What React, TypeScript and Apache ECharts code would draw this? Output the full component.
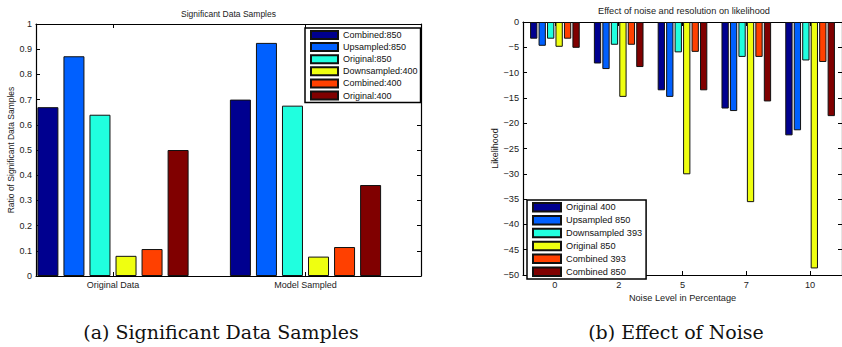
import React, { useEffect, useRef } from "react";
import * as echarts from "echarts";

// ---- (a) Significant Data Samples ----
const groupsA = ["Original Data", "Model Sampled"];
const namesA = ["Combined:850", "Upsampled:850", "Original:850", "Downsampled:400", "Combined:400", "Original:400"];
const combined850 = [0.67, 0.70];
const upsampled850 = [0.872, 0.925];
const original850 = [0.64, 0.676];
const downsampled400 = [0.08, 0.077];
const combined400 = [0.107, 0.115];
const original400 = [0.5, 0.361];
const valuesA = [combined850, upsampled850, original850, downsampled400, combined400, original400];

// ---- (b) Effect of Noise ----
const noiseLevels = ["0", "2", "5", "7", "10"];
const namesB = ["Original 400", "Upsampled 850", "Downsampled 393", "Original 850", "Combined 393", "Combined 850"];
const orig400 = [-3.3, -8.2, -13.5, -17.1, -22.4];
const up850 = [-4.7, -9.3, -14.8, -17.6, -21.4];
const down393 = [-3.3, -4.5, -6.0, -6.9, -7.6];
const orig850 = [-4.9, -14.8, -30.1, -35.6, -48.7];
const comb393 = [-3.3, -4.5, -5.9, -6.9, -7.9];
const comb850 = [-5.1, -8.9, -13.5, -15.7, -18.6];
const valuesB = [orig400, up850, down393, orig850, comb393, comb850];

const colors = ["#00008F", "#0060FF", "#20FFDF", "#EFFF10", "#FF4000", "#800000"];

const FONT = "Liberation Sans";
const SERIF = "DejaVu Serif";
const AX = "#000";
const TXT = "#222";

export default function App() {
  const ref = useRef<HTMLDivElement>(null);
  useEffect(() => {
    if (!ref.current) return;
    const chart = echarts.init(ref.current, undefined, { renderer: "svg" });

    const tick = { show: true, inside: true, length: 4, lineStyle: { color: AX, width: 1 } };
    const line = { show: true, onZero: false, lineStyle: { color: AX, width: 1.2 } };

    const seriesA = namesA.map((n, k) => ({
      name: n,
      type: "bar",
      xAxisIndex: 0,
      yAxisIndex: 0,
      barWidth: 21,
      barGap: "24%",
      data: valuesA[k].map((v, i) => [i + 1, v]),
      itemStyle: { color: colors[k], borderColor: "#111", borderWidth: 1 },
    }));
    const seriesB = namesB.map((n, k) => ({
      name: n,
      type: "bar",
      xAxisIndex: 2,
      yAxisIndex: 2,
      barWidth: 7.3,
      barGap: "16%",
      data: valuesB[k],
      itemStyle: { color: colors[k], borderColor: "#111", borderWidth: 1 },
    }));

    const legendCommon = {
      orient: "vertical",
      icon: "rect",
      backgroundColor: "#fff",
      borderColor: "#000",
      borderWidth: 1.5,
      borderRadius: 0,
      selectedMode: false,
    };

    chart.setOption({
      animation: false,
      textStyle: { fontFamily: FONT },
      title: [
        {
          text: "Significant Data Samples",
          left: 228.5,
          top: 9,
          textAlign: "center",
          padding: 0,
          textStyle: { fontSize: 8.5, fontWeight: "normal", color: TXT, fontFamily: FONT },
        },
        {
          text: "Effect of noise and resolution on likelihood",
          left: 684,
          top: 6,
          textAlign: "center",
          padding: 0,
          textStyle: { fontSize: 9.2, fontWeight: "normal", color: TXT, fontFamily: FONT },
        },
      ],
      legend: [
        {
          ...legendCommon,
          left: 305,
          top: 28,
          padding: [2, 3, 2, 5],
          itemWidth: 27,
          itemHeight: 8,
          itemGap: 2.1,
          data: namesA,
          textStyle: { fontSize: 9, lineHeight: 9, color: "#111", fontFamily: FONT },
        },
        {
          ...legendCommon,
          left: 527,
          top: 200,
          padding: [2, 4, 2, 5],
          itemWidth: 28,
          itemHeight: 8.5,
          itemGap: 2.4,
          data: namesB,
          textStyle: { fontSize: 9.2, lineHeight: 9, color: "#111", fontFamily: FONT },
        },
      ],
      grid: [
        { left: 36, top: 24, width: 385, height: 252, containLabel: false },
        { left: 523, top: 22, width: 322, height: 253, containLabel: false },
      ],
      xAxis: [
        {
          gridIndex: 0,
          type: "value",
          position: "bottom",
          min: 0.6,
          max: 2.6,
          axisLine: line,
          axisTick: { ...tick, customValues: [1, 2] },
          axisLabel: {
            customValues: [1, 2],
            formatter: (v: number) => groupsA[Math.round(v) - 1] ?? "",
            fontSize: 9,
            color: TXT,
            margin: 4,
            fontFamily: FONT,
          },
          splitLine: { show: false },
        },
        {
          gridIndex: 0,
          type: "value",
          position: "top",
          min: 0.6,
          max: 2.6,
          axisLine: line,
          axisTick: { ...tick, customValues: [1, 2] },
          axisLabel: { show: false },
          splitLine: { show: false },
        },
        {
          gridIndex: 1,
          type: "category",
          position: "bottom",
          data: noiseLevels,
          boundaryGap: true,
          axisLine: line,
          axisTick: { ...tick, alignWithLabel: true },
          axisLabel: { fontSize: 9.2, color: TXT, margin: 5, fontFamily: FONT },
          name: "Noise Level in Percentage",
          nameLocation: "middle",
          nameGap: 16,
          nameTextStyle: { fontSize: 9.2, color: TXT, fontFamily: FONT },
          splitLine: { show: false },
        },
        {
          gridIndex: 1,
          type: "category",
          position: "top",
          data: noiseLevels,
          boundaryGap: true,
          axisLine: line,
          axisTick: { ...tick, alignWithLabel: true },
          axisLabel: { show: false },
          splitLine: { show: false },
        },
      ],
      yAxis: [
        {
          gridIndex: 0,
          type: "value",
          position: "left",
          min: 0,
          max: 1,
          interval: 0.1,
          axisLine: line,
          axisTick: tick,
          axisLabel: { fontSize: 9, color: TXT, margin: 4, fontFamily: FONT },
          name: "Ratio of Significant Data Samples",
          nameLocation: "middle",
          nameGap: 20,
          nameRotate: 90,
          nameTextStyle: { fontSize: 8.5, color: TXT, fontFamily: FONT },
          splitLine: { show: false },
        },
        {
          gridIndex: 0,
          type: "value",
          position: "right",
          min: 0,
          max: 1,
          interval: 0.1,
          axisLine: line,
          axisTick: tick,
          axisLabel: { show: false },
          splitLine: { show: false },
        },
        {
          gridIndex: 1,
          type: "value",
          position: "left",
          min: -50,
          max: 0,
          interval: 5,
          axisLine: line,
          axisTick: tick,
          axisLabel: {
            fontSize: 9.2,
            color: TXT,
            margin: 4,
            fontFamily: FONT,
            formatter: (v: number) => String(v).replace("-", "\u2212"),
          },
          name: "Likelihood",
          nameLocation: "middle",
          nameGap: 23,
          nameRotate: 90,
          nameTextStyle: { fontSize: 9, color: TXT, fontFamily: FONT },
          splitLine: { show: false },
        },
        {
          gridIndex: 1,
          type: "value",
          position: "right",
          min: -50,
          max: 0,
          interval: 5,
          axisLine: line,
          axisTick: tick,
          axisLabel: { show: false },
          splitLine: { show: false },
        },
      ],
      graphic: [
        {
          type: "text",
          x: 221,
          y: 332,
          style: {
            text: "(a) Significant Data Samples",
            fontSize: 19,
            fontFamily: SERIF,
            fill: "#111",
            align: "center",
            verticalAlign: "middle",
          },
        },
        {
          type: "text",
          x: 676,
          y: 332,
          style: {
            text: "(b) Effect of Noise",
            fontSize: 19,
            fontFamily: SERIF,
            fill: "#111",
            align: "center",
            verticalAlign: "middle",
          },
        },
      ],
      series: [...seriesA, ...seriesB],
    });

    return () => chart.dispose();
  }, []);

  return (
    <div
      ref={ref}
      style={{ position: "fixed", left: 0, top: 0, width: 842, height: 347, background: "#fff" }}
    />
  );
}
